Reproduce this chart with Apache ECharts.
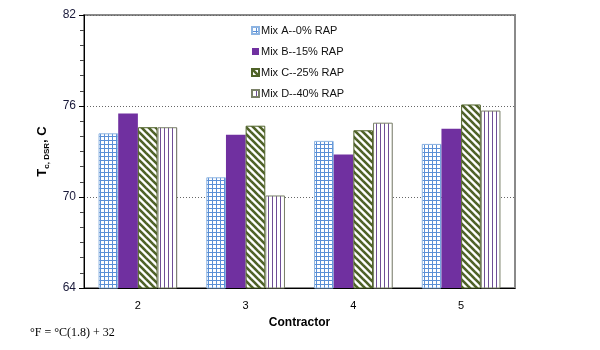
<!DOCTYPE html>
<html>
<head>
<meta charset="utf-8">
<script src="https://cdn.jsdelivr.net/npm/echarts@6/dist/echarts.min.js"></script>
<style>html,body{margin:0;padding:0;background:#fff}#c{width:600px;height:350px}</style>
</head>
<body>
<div id="c"></div>
<script>
const categories = ['2', '3', '4', '5'];
const seriesNames = ['Mix A--0% RAP', 'Mix B--15% RAP', 'Mix C--25% RAP', 'Mix D--40% RAP'];
const mixA = [74.2, 71.3, 73.7, 73.5];
const mixB = [75.5, 74.1, 72.8, 74.5];
const mixC = [74.6, 74.7, 74.4, 76.1];
const mixD = [74.6, 70.1, 74.9, 75.7];
const yTicks = [64, 70, 76, 82];

function mkCanvas(w, h, draw) {
  const c = document.createElement('canvas');
  c.width = w; c.height = h;
  const ctx = c.getContext('2d');
  ctx.fillStyle = '#fff'; ctx.fillRect(0, 0, w, h);
  draw(ctx, w, h);
  return c;
}
const patGrid = mkCanvas(4, 4, (ctx) => {
  ctx.fillStyle = '#5a8fd6';
  ctx.fillRect(0, 0, 4, 1);
  ctx.fillRect(0, 0, 1, 4);
});
const patDiag = mkCanvas(7, 7, (ctx, w, h) => {
  ctx.strokeStyle = '#4f6228';
  ctx.lineWidth = 2.6;
  for (let k = -1; k <= 1; k++) {
    ctx.beginPath();
    ctx.moveTo(-1 + k * w, -1);
    ctx.lineTo(w + 1 + k * w, h + 1);
    ctx.stroke();
  }
});
const patVert = mkCanvas(4, 4, (ctx) => {
  ctx.fillStyle = '#6f4f96';
  ctx.fillRect(0, 0, 1, 4);
});

const styles = [
  { color: { image: patGrid, repeat: 'repeat' }, borderColor: '#8db4e2', borderWidth: 1 },
  { color: '#7030a0', borderColor: '#7030a0', borderWidth: 0 },
  { color: { image: patDiag, repeat: 'repeat' }, borderColor: '#4f6228', borderWidth: 1 },
  { color: { image: patVert, repeat: 'repeat' }, borderColor: '#7a8068', borderWidth: 1 }
];
const allData = [mixA, mixB, mixC, mixD];

const chart = echarts.init(document.getElementById('c'), null, { renderer: 'canvas' });
chart.setOption({
  animation: false,
  backgroundColor: '#fff',
  grid: { left: 84, right: 85, top: 15, bottom: 62, show: true, borderColor: '#8a8a8a', borderWidth: 2, backgroundColor: 'transparent' },
  legend: {
    orient: 'vertical', left: 246, top: 20, itemWidth: 7, itemHeight: 7, itemGap: 10,
    icon: 'rect',
    textStyle: { fontFamily: 'Arial, Liberation Sans', fontSize: 11, color: '#111', padding: [0, 0, 0, -3] },
    data: seriesNames
  },
  xAxis: {
    type: 'category', data: categories,
    axisLine: { lineStyle: { color: '#000', width: 1 } },
    axisTick: { show: false },
    axisLabel: { fontFamily: 'Arial, Liberation Sans', fontSize: 11, color: '#000', margin: 12 },
    name: 'Contractor', nameLocation: 'middle', nameGap: 29,
    nameTextStyle: { fontFamily: 'Arial, Liberation Sans', fontSize: 12, fontWeight: 'bold', color: '#000' }
  },
  yAxis: {
    type: 'value', min: yTicks[0], max: yTicks[yTicks.length - 1], interval: 6,
    axisLine: { show: true, lineStyle: { color: '#000', width: 1 } },
    axisTick: { show: true, length: 5, lineStyle: { color: '#000' } },
    minorTick: { show: true, splitNumber: 6, length: 4, lineStyle: { color: '#444' } },
    axisLabel: { fontFamily: 'Arial, Liberation Sans', fontSize: 12, color: '#1a1a3a', margin: 8 },
    splitLine: { show: true, lineStyle: { color: '#666', type: [1, 2], width: 1 } },
    name: '{a|T}{b|c, DSR}{a|, C}', nameLocation: 'middle', nameGap: 33, nameRotate: 90,
    nameTextStyle: {
      rich: {
        a: { fontFamily: 'Arial, Liberation Sans', fontSize: 13, fontWeight: 'bold', color: '#000', lineHeight: 18, verticalAlign: 'middle' },
        b: { fontFamily: 'Arial, Liberation Sans', fontSize: 8, fontWeight: 'bold', color: '#000', lineHeight: 18, verticalAlign: 'bottom', padding: [4, 0, 0, 0] }
      }
    }
  },
  series: seriesNames.map((n, i) => ({
    name: n, type: 'bar', data: allData[i],
    barGap: '0%', barCategoryGap: '27%',
    itemStyle: styles[i]
  })),
  graphic: [{
    type: 'text', left: 30, top: 327,
    style: { text: '°F = °C(1.8) + 32', font: '12px "Liberation Serif", "Times New Roman", serif', fill: '#000' }
  }]
});
</script>
</body>
</html>
